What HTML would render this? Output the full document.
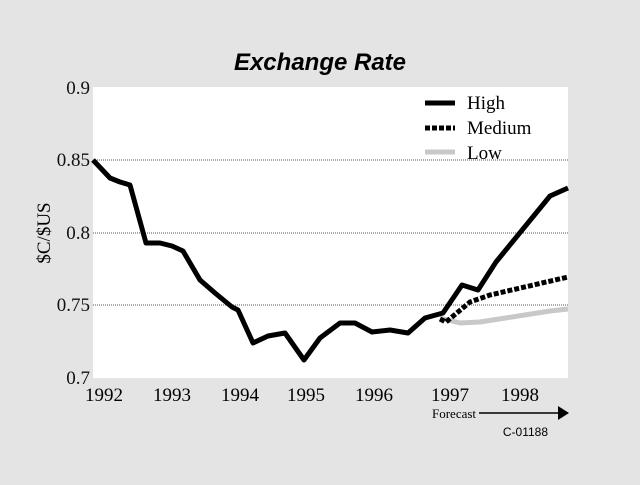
<!DOCTYPE html><html><head><style>body{margin:0;background:#e4e4e4;width:640px;height:480px;overflow:hidden}svg text{font-family:"Liberation Serif",serif}</style></head><body>
<svg width="640" height="480" xmlns="http://www.w3.org/2000/svg">
<rect x="93" y="87" width="475" height="291" fill="#fff"/>
<g stroke="#555" stroke-width="1" stroke-dasharray="1,1">
<line x1="93" y1="160" x2="568" y2="160"/><line x1="93" y1="233" x2="568" y2="233"/><line x1="93" y1="305" x2="568" y2="305"/></g>
<text x="320" y="70" text-anchor="middle" style="font-family:'Liberation Sans',sans-serif;font-weight:bold;font-style:italic;font-size:24px">Exchange Rate</text>
<g font-size="19" text-anchor="end" fill="#111"><text x="90" y="94">0.9</text><text x="90" y="166">0.85</text><text x="90" y="239">0.8</text><text x="90" y="311">0.75</text><text x="90" y="384">0.7</text></g>
<text transform="translate(50,233) rotate(-90)" font-size="19" text-anchor="middle">$C/$US</text>
<g font-size="19" text-anchor="middle"><text x="104" y="401">1992</text><text x="172" y="401">1993</text><text x="240" y="401">1994</text><text x="306" y="401">1995</text><text x="374" y="401">1996</text><text x="450" y="401">1997</text><text x="520" y="401">1998</text></g>
<text x="432" y="418" font-size="13">Forecast</text>
<line x1="479" y1="413" x2="560" y2="413" stroke="#000" stroke-width="1.5"/><polygon points="558,406 569,413 558,420" fill="#000"/>
<text x="548" y="436" font-size="12" style="font-family:'Liberation Sans',sans-serif" text-anchor="end">C-01188</text>
<g fill="none" stroke-width="5" stroke-linejoin="round">
<polyline stroke="#c8c8c8" points="440,318 460,323 480,322 550,311 568,309"/>
<polyline stroke="#000" stroke-dasharray="5,2" points="440,319 446,322 470,302 490,295 568,277"/>
<polyline stroke="#000" points="93,160 110,178 120,182 130,185 146,243 160,243 172,246 183,251 200,280 215,293 232,307 238,310 253,343 268,336 285,333 304,360 320,338 340,323 355,323 372,332 390,330 408,333 425,318 443,313 462,285 478,290 496,262 550,196 568,188"/>
<line x1="425" y1="103" x2="455" y2="103" stroke="#000"/>
<line x1="425" y1="128" x2="455" y2="128" stroke="#000" stroke-dasharray="5,2"/>
<line x1="425" y1="152" x2="455" y2="152" stroke="#c8c8c8"/></g>
<g font-size="19"><text x="467" y="109">High</text><text x="467" y="134">Medium</text><text x="467" y="159">Low</text></g>
</svg></body></html>
